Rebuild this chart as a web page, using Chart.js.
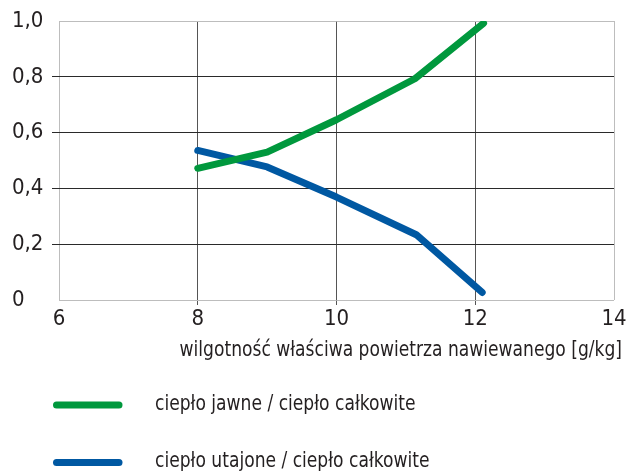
<!DOCTYPE html>
<html>
<head>
<meta charset="utf-8">
<script src="https://cdn.jsdelivr.net/npm/chart.js@4"></script>
<style>
  body { margin: 0; background: #fff; }
  canvas { display: block; }
</style>
</head>
<body>
<canvas id="chart" width="631" height="471"></canvas>
<script>
// data
const sensibleX = [8, 9, 10, 11.13, 12.12];
const sensibleY = [0.472, 0.53, 0.646, 0.793, 0.992];
const latentX = [8, 9, 10, 11.15, 12.1];
const latentY = [0.536, 0.477, 0.369, 0.234, 0.027];

const seriesNames = ["ciepło jawne / ciepło całkowite", "ciepło utajone / ciepło całkowite"];
const axisTitle = "wilgotność właściwa powietrza nawiewanego [g/kg]";
const xTicks = [6, 8, 10, 12, 14];
const yTicks = [0, 0.2, 0.4, 0.6, 0.8, 1.0];

const FONT = "'Liberation Sans Narrow', 'DejaVu Sans Condensed', sans-serif";
const TEXT = "#231f20";
const GREEN = "#00983d";
const BLUE = "#0058a2";
const SQUEEZE = 0.865; // reference uses a narrow face

const toPoints = (xs, ys) => xs.map((x, i) => ({ x, y: ys[i] }));
const isEdge = (v, lo, hi) => Math.abs(v - lo) < 1e-6 || Math.abs(v - hi) < 1e-6;

function narrowText(ctx, str, x, y, align) {
  ctx.save();
  ctx.translate(x, y);
  ctx.scale(SQUEEZE, 1);
  ctx.textAlign = align;
  ctx.fillText(str, 0, 0);
  ctx.restore();
}

/* ====================
   TITLE + LEGEND
==================== */
const extras = {
  id: "extras",
  afterDraw(chart) {
    const ctx = chart.ctx;
    ctx.save();
    ctx.fillStyle = TEXT;
    ctx.font = "22px " + FONT;
    ctx.textBaseline = "alphabetic";
    narrowText(ctx, axisTitle, 622, 356, "right");

    const rows = [{ line: 405, base: 410 }, { line: 462.5, base: 467 }];
    chart.data.datasets.forEach((ds, i) => {
      ctx.strokeStyle = ds.borderColor;
      ctx.lineWidth = 7;
      ctx.lineCap = "round";
      ctx.beginPath();
      ctx.moveTo(56.5, rows[i].line);
      ctx.lineTo(119, rows[i].line);
      ctx.stroke();
      narrowText(ctx, ds.label, 155, rows[i].base, "left");
    });
    ctx.restore();
  }
};

new Chart(document.getElementById("chart"), {
  type: "scatter",
  data: {
    datasets: [
      {
        label: seriesNames[0],
        data: toPoints(sensibleX, sensibleY),
        showLine: true,
        borderColor: GREEN,
        backgroundColor: GREEN,
        borderWidth: 7,
        borderCapStyle: "round",
        borderJoinStyle: "round",
        pointRadius: 0,
        tension: 0
      },
      {
        label: seriesNames[1],
        data: toPoints(latentX, latentY),
        showLine: true,
        borderColor: BLUE,
        backgroundColor: BLUE,
        borderWidth: 7,
        borderCapStyle: "round",
        borderJoinStyle: "round",
        pointRadius: 0,
        tension: 0
      }
    ]
  },
  options: {
    responsive: false,
    animation: false,
    layout: { padding: { left: 12, top: 21, right: 17, bottom: 0 } },
    plugins: {
      legend: { display: false },
      tooltip: { enabled: false }
    },
    scales: {
      x: {
        type: "linear",
        min: 6,
        max: 14,
        afterBuildTicks: s => { s.ticks = xTicks.map(v => ({ value: v })); },
        afterFit: s => { s.height = 171; },
        border: { display: false },
        grid: {
          lineWidth: 1,
          tickLength: 5,
          color: c => isEdge(c.tick.value, 6, 14) ? "#bdbdbd" : "#555",
          tickColor: c => isEdge(c.tick.value, 6, 14) ? "rgba(0,0,0,0)" : "#555"
        },
        ticks: {
          color: TEXT,
          padding: 1,
          maxRotation: 0,
          font: { family: FONT, size: 22 }
        }
      },
      y: {
        min: 0,
        max: 1,
        afterBuildTicks: s => { s.ticks = yTicks.map(v => ({ value: v })); },
        afterFit: s => { s.width = 47; },
        border: { display: false },
        grid: {
          lineWidth: 1,
          tickLength: 7,
          color: c => isEdge(c.tick.value, 0, 1) ? "#bdbdbd" : "#2a2a2a",
          tickColor: c => isEdge(c.tick.value, 0, 1) ? "rgba(0,0,0,0)" : "#2a2a2a"
        },
        ticks: {
          color: TEXT,
          crossAlign: "far",
          font: { family: FONT, size: 22 },
          callback: v => v === 0 ? "0" : v.toFixed(1).replace(".", ",")
        }
      }
    }
  },
  plugins: [extras]
});
</script>
</body>
</html>
